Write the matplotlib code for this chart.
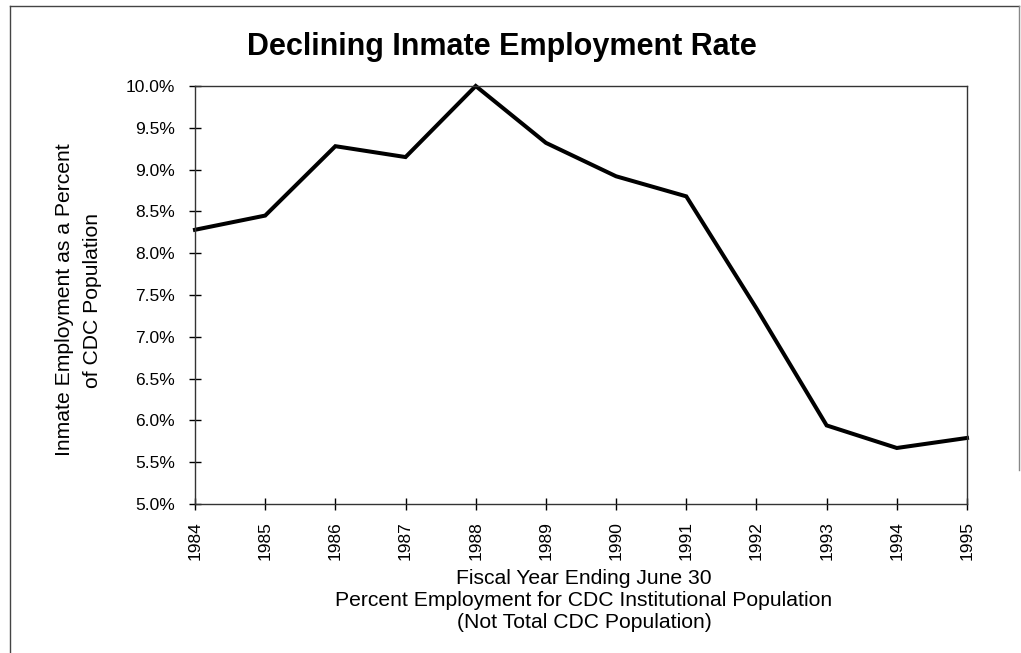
import matplotlib.pyplot as plt
from matplotlib.lines import Line2D
from matplotlib.ticker import FuncFormatter

plt.rcParams['font.family'] = ['Liberation Sans', 'DejaVu Sans']

YEARS = [1984, 1985, 1986, 1987, 1988, 1989, 1990, 1991, 1992, 1993, 1994, 1995]
EMPLOYMENT_RATE = [8.28, 8.45, 9.28, 9.15, 10.0, 9.32, 8.92, 8.68, 7.34, 5.94, 5.67, 5.79]

Y_TICKS = [5.0, 5.5, 6.0, 6.5, 7.0, 7.5, 8.0, 8.5, 9.0, 9.5, 10.0]

W, H = 1021, 653
fig = plt.figure(figsize=(W / 100, H / 100), dpi=100)
ax = fig.add_axes([195 / W, 1 - 504 / H, (967 - 195) / W, (504 - 86) / H])

ax.plot(YEARS, EMPLOYMENT_RATE, color='black', linewidth=2.9, solid_joinstyle='miter', clip_on=False)

ax.set_xlim(YEARS[0], YEARS[-1])
ax.set_ylim(Y_TICKS[0], Y_TICKS[-1])
ax.set_xticks(YEARS)
ax.set_xticklabels([str(y) for y in YEARS], rotation=90)
ax.set_yticks(Y_TICKS)
ax.yaxis.set_major_formatter(FuncFormatter(lambda v, pos: f'{v:.1f}%'))
ax.tick_params(direction='inout', length=9, width=1, labelsize=12.5, color='black')
ax.tick_params(axis='y', pad=10)
ax.tick_params(axis='x', pad=8)

for side in ax.spines.values():
    side.set_linewidth(1)
    side.set_color('#333333')

# axis titles
ylabel_lines = ['Inmate Employment as a Percent', 'of CDC Population']
for x_px, line in zip([64, 92], ylabel_lines):
    fig.text(x_px / W, 1 - 300 / H, line, fontsize=15.2, rotation=90, ha='center', va='center')

xlabel_lines = ['Fiscal Year Ending June 30',
                'Percent Employment for CDC Institutional Population',
                '(Not Total CDC Population)']
for y_px, line in zip([578, 600, 622], xlabel_lines):
    fig.text(584 / W, 1 - y_px / H, line, fontsize=15.2, ha='center', va='center')

fig.text(502 / W, 1 - 47 / H, 'Declining Inmate Employment Rate', fontsize=22, fontweight='bold',
         ha='center', va='center')

# page border around the chart
fig.add_artist(Line2D([10 / W, 10 / W], [0, 1 - 6 / H], transform=fig.transFigure, color='#444444', linewidth=1))
fig.add_artist(Line2D([10 / W, 1019 / W], [1 - 6 / H, 1 - 6 / H], transform=fig.transFigure, color='#444444', linewidth=1))
fig.add_artist(Line2D([1019 / W, 1019 / W], [1 - 6 / H, 1 - 470 / H], transform=fig.transFigure, color='#888888', linewidth=1))

fig.savefig('out.png', dpi=100)
